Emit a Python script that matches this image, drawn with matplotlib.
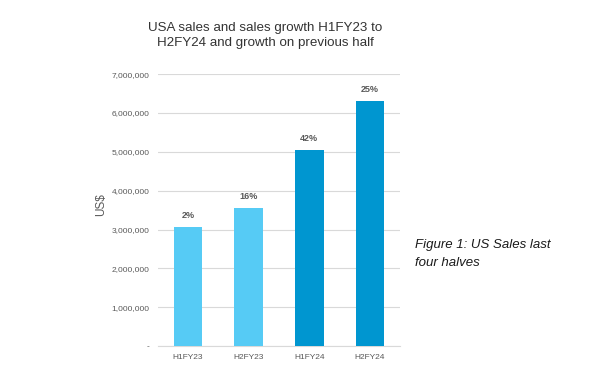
import matplotlib
matplotlib.use("Agg")
import matplotlib.pyplot as plt
from matplotlib.ticker import FuncFormatter
import numpy as np

plt.rcParams["font.family"] = ["Liberation Sans", "DejaVu Sans"]

halves = ["H1FY23", "H2FY23", "H1FY24", "H2FY24"]
sales = [3070000, 3550000, 5040000, 6300000]
growth = ["2%", "16%", "42%", "25%"]
colors = ["#56CBF5", "#56CBF5", "#0096D0", "#0096D0"]

fig = plt.figure(figsize=(6.0, 3.82), dpi=100)
ax = fig.add_axes([0.263, 0.094, 0.404, 0.712])

x = np.arange(len(halves))
bars = ax.bar(x, sales, width=0.47, color=colors, zorder=3)
for b, g in zip(bars, growth):
    ax.annotate(g, (b.get_x() + b.get_width() / 2, b.get_height()),
                xytext=(0, 5), textcoords="offset points", ha="center", va="bottom",
                fontsize=6.5, fontweight="bold", color="#595959")

ax.set_xlim(-0.5, len(halves) - 0.5)
ax.set_ylim(0, 7000000)
ax.set_yticks(np.arange(0, 7000001, 1000000))
ax.yaxis.set_major_formatter(FuncFormatter(lambda v, _: "-" if v == 0 else f"{v:,.0f}"))
ax.set_xticks(x)
ax.set_xticklabels(halves)
ax.tick_params(axis="both", length=0, labelsize=6, colors="#595959", pad=6)
ax.grid(axis="y", color="#d9d9d9", lw=0.8, zorder=0)
for s in ["top", "right", "left"]:
    ax.spines[s].set_visible(False)
ax.spines["bottom"].set_color("#d9d9d9")
ax.set_ylabel("US$", fontsize=8.5, color="#595959")
ax.yaxis.set_label_coords(-0.21, 0.52)

fig.text(0.442, 0.907, "USA sales and sales growth H1FY23 to\nH2FY24 and growth on previous half",
         ha="center", va="center", fontsize=9.6, color="#333333", linespacing=1.3)
fig.text(0.691, 0.335, "Figure 1: US Sales last\nfour halves", ha="left", va="center",
         fontsize=9.5, style="italic", color="#1a1a1a", linespacing=1.75)

fig.savefig("out.png", dpi=100)
